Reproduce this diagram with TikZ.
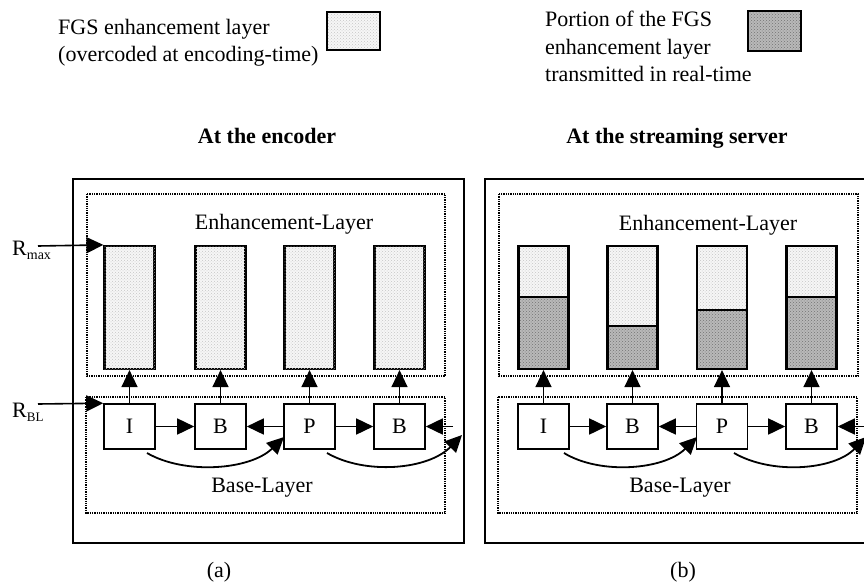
\documentclass[tikz,border=0pt]{standalone}
\usepackage{fontspec}
\setmainfont{Liberation Serif}
\usetikzlibrary{arrows.meta,patterns}
\begin{document}
\begin{tikzpicture}[x=1pt,y=-1pt,
  every node/.style={font=\fontsize{22}{27}\selectfont, inner sep=0pt},
  panel/.style={draw, line width=1.6pt},
  dotbox/.style={draw, densely dotted, line width=1.3pt},
  lightfill/.style={fill=gray!7, postaction={pattern=crosshatch dots, pattern color=gray!45}},
  darkfill/.style={fill=gray!55, postaction={pattern=crosshatch dots, pattern color=black!55}},
  bar/.style={draw, line width=2.2pt, minimum width=50pt, minimum height=123pt},
  fbox/.style={draw, line width=1.6pt, fill=white, minimum width=51pt, minimum height=45pt},
  arr/.style={-{Triangle[length=17pt,width=16pt]}, line width=1.6pt},
  curvarr/.style={-{Triangle[length=17pt,width=16pt]}, line width=1.8pt},
  lbl/.style={anchor=base},
  txt/.style={anchor=base west}]
\useasboundingbox (0,0) rectangle (864,583);

% ---------- legend ----------
\node[txt] (l1a) at (58,35) {FGS enhancement layer};
\node[txt] (l1b) at (58,62) {(overcoded at encoding-time)};
\path[lightfill] (327,12) rectangle (380,50);
\draw[line width=2.4pt] (327,12) rectangle (380,50);
\node[txt] (l2a) at (545,27) {Portion of the FGS};
\node[txt] (l2b) at (545,55) {enhancement layer};
\node[txt] (l2c) at (545,82) {transmitted in real-time};
\path[darkfill] (748,11) rectangle (801,51);
\draw[line width=2.4pt] (748,11) rectangle (801,51);

% ---------- titles ----------
\node[lbl, font=\fontsize{22}{27}\selectfont\bfseries] (tA) at (267,143) {At the encoder};
\node[lbl, font=\fontsize{22}{27}\selectfont\bfseries] (tB) at (677,143) {At the streaming server};

% ---------- panel (a) ----------
\draw[panel] (73,179) rectangle (464,543);
\draw[dotbox] (87,194) rectangle (445,376);
\draw[dotbox] (86,397) rectangle (445,513);
\node[lbl] (elA) at (284,229) {Enhancement-Layer};
\node[lbl] (blA) at (262,492) {Base-Layer};

\node[bar, lightfill] (ea1) at (129.5,307.5) {};
\node[bar, lightfill] (ea2) at (220.5,307.5) {};
\node[bar, lightfill] (ea3) at (309.5,307.5) {};
\node[bar, lightfill] (ea4) at (399.5,307.5) {};

\node[fbox] (ba1) at (129.5,426.5) {I};
\node[fbox] (ba2) at (220.5,426.5) {B};
\node[fbox] (ba3) at (309.5,426.5) {P};
\node[fbox] (ba4) at (399.5,426.5) {B};

\draw[arr] (ba1) -- (ea1);
\draw[arr] (ba2) -- (ea2);
\draw[arr] (ba3) -- (ea3);
\draw[arr] (ba4) -- (ea4);

\draw[arr] (ba1) -- (ba2);
\draw[arr] (ba3) -- (ba2);
\draw[arr] (ba3) -- (ba4);
\coordinate (ra) at (453,426.5);
\draw[arr] (ra) -- (ba4);

\coordinate (ca1s) at (147,453);
\coordinate (ca1e) at (284,437);
\draw[curvarr] (ca1s) .. controls (185,475) and (250,470) .. (ca1e);
\coordinate (ca2s) at (327,453);
\coordinate (ca2e) at (462,435);
\draw[curvarr] (ca2s) .. controls (365,475) and (428,470) .. (ca2e);

\node[txt] (rmax) at (12,255) {R\raisebox{-4pt}{\fontsize{14}{14}\selectfont max}};
\node[txt] (rbl) at (12,417) {R\raisebox{-4pt}{\fontsize{13}{13}\selectfont BL}};
\coordinate (rmaxs) at (38,246);
\coordinate (rbls) at (38,404);
\draw[arr] (rmaxs) -- (ea1.north west);
\draw[arr] (rbls) -- (ba1.north west);

\node[lbl] (capA) at (219,577) {(a)};

% ---------- panel (b) ----------
\draw[panel] (485,179) rectangle (880,543);
\draw[dotbox] (499,194) rectangle (858,376);
\draw[dotbox] (498,397) rectangle (857,513);
\node[lbl] (elB) at (708,230) {Enhancement-Layer};
\node[lbl] (blB) at (680,492) {Base-Layer};

\path[lightfill] (518.5,246) rectangle (568.5,297);
\path[darkfill]  (518.5,297) rectangle (568.5,369);
\path[lightfill] (607.5,246) rectangle (657.5,326);
\path[darkfill]  (607.5,326) rectangle (657.5,369);
\path[lightfill] (697,246) rectangle (747,310);
\path[darkfill]  (697,310) rectangle (747,369);
\path[lightfill] (786.5,246) rectangle (836.5,297);
\path[darkfill]  (786.5,297) rectangle (836.5,369);

\node[bar] (eb1) at (543.5,307.5) {};
\node[bar] (eb2) at (632.5,307.5) {};
\node[bar] (eb3) at (722,307.5) {};
\node[bar] (eb4) at (811.5,307.5) {};
\draw[line width=2pt] (eb1.west |- 0,297) -- (eb1.east |- 0,297);
\draw[line width=2pt] (eb2.west |- 0,326) -- (eb2.east |- 0,326);
\draw[line width=2pt] (eb3.west |- 0,310) -- (eb3.east |- 0,310);
\draw[line width=2pt] (eb4.west |- 0,297) -- (eb4.east |- 0,297);

\node[fbox] (bb1) at (543.5,426.5) {I};
\node[fbox] (bb2) at (632.5,426.5) {B};
\node[fbox] (bb3) at (722,426.5) {P};
\node[fbox] (bb4) at (811.5,426.5) {B};

\draw[arr] (bb1) -- (eb1);
\draw[arr] (bb2) -- (eb2);
\draw[arr] (bb3) -- (eb3);
\draw[arr] (bb4) -- (eb4);

\draw[arr] (bb1) -- (bb2);
\draw[arr] (bb3) -- (bb2);
\draw[arr] (bb3) -- (bb4);
\coordinate (rb) at (880,426.5);
\draw[arr] (rb) -- (bb4);

\coordinate (cb1s) at (564,453);
\coordinate (cb1e) at (697,437);
\draw[curvarr] (cb1s) .. controls (600,475) and (664,470) .. (cb1e);
\coordinate (cb2s) at (734,453);
\coordinate (cb2e) at (866,437);
\draw[curvarr] (cb2s) .. controls (772,475) and (834,470) .. (cb2e);

\node[lbl] (capB) at (683,577) {(b)};
\end{tikzpicture}
\end{document}
